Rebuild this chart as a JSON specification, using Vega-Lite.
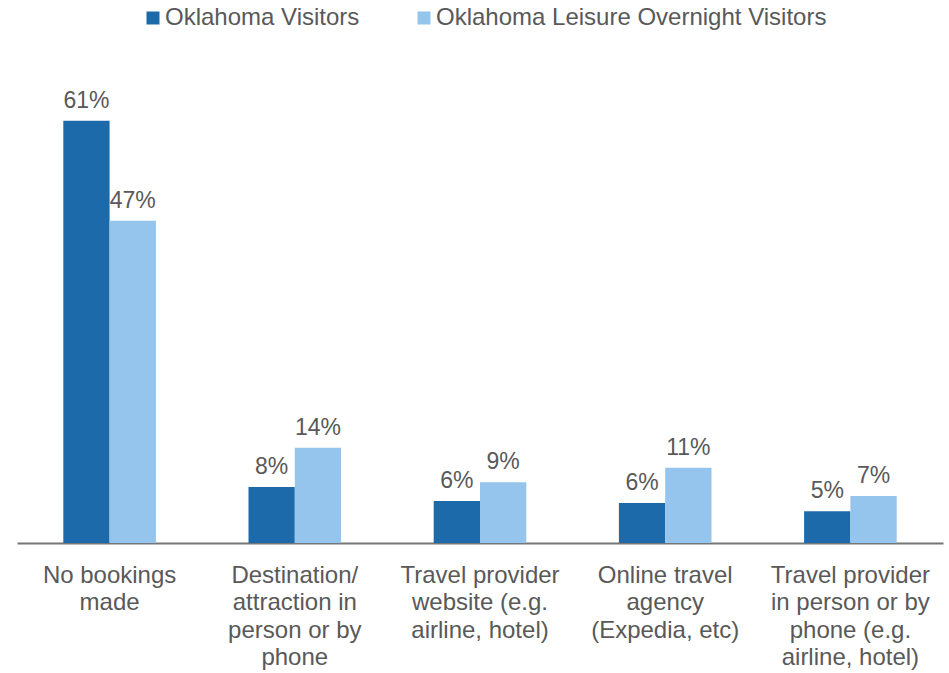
{
  "$schema": "https://vega.github.io/schema/vega-lite/v6.json",
  "width": 926,
  "height": 483,
  "autosize": {"type": "none"},
  "padding": {"left": 17, "top": 60, "right": 6, "bottom": 130},
  "background": "white",
  "config": {
    "view": {"stroke": null},
    "font": "Liberation Sans"
  },
  "data": {
    "values": [
      {"category": "No bookings|made", "series": "Oklahoma Visitors", "value": 0.612},
      {"category": "No bookings|made", "series": "Oklahoma Leisure Overnight Visitors", "value": 0.467},
      {"category": "Destination/|attraction in|person or by|phone", "series": "Oklahoma Visitors", "value": 0.081},
      {"category": "Destination/|attraction in|person or by|phone", "series": "Oklahoma Leisure Overnight Visitors", "value": 0.138},
      {"category": "Travel provider|website (e.g.|airline, hotel)", "series": "Oklahoma Visitors", "value": 0.061},
      {"category": "Travel provider|website (e.g.|airline, hotel)", "series": "Oklahoma Leisure Overnight Visitors", "value": 0.088},
      {"category": "Online travel|agency|(Expedia, etc)", "series": "Oklahoma Visitors", "value": 0.058},
      {"category": "Online travel|agency|(Expedia, etc)", "series": "Oklahoma Leisure Overnight Visitors", "value": 0.109},
      {"category": "Travel provider|in person or by|phone (e.g.|airline, hotel)", "series": "Oklahoma Visitors", "value": 0.046},
      {"category": "Travel provider|in person or by|phone (e.g.|airline, hotel)", "series": "Oklahoma Leisure Overnight Visitors", "value": 0.068}
    ]
  },
  "encoding": {
    "x": {
      "field": "category",
      "type": "nominal",
      "sort": null,
      "scale": {"paddingInner": 0, "paddingOuter": 0},
      "axis": {
        "title": null,
        "labelAngle": 0,
        "ticks": false,
        "domainColor": "#767676",
        "domainWidth": 2,
        "labelFont": "Liberation Sans",
        "labelFontSize": 24,
        "labelColor": "#595959",
        "labelLineHeight": 27.5,
        "labelPadding": 20,
        "labelBaseline": "top",
        "labelExpr": "split(datum.label, '|')"
      }
    },
    "xOffset": {
      "field": "series",
      "type": "nominal",
      "sort": ["Oklahoma Visitors", "Oklahoma Leisure Overnight Visitors"],
      "scale": {"paddingInner": 0, "paddingOuter": 1.08}
    },
    "y": {
      "field": "value",
      "type": "quantitative",
      "scale": {"domain": [0, 0.7]},
      "axis": null
    }
  },
  "layer": [
    {
      "mark": {"type": "bar"},
      "encoding": {
        "color": {
          "field": "series",
          "type": "nominal",
          "sort": ["Oklahoma Visitors", "Oklahoma Leisure Overnight Visitors"],
          "scale": {
            "domain": ["Oklahoma Visitors", "Oklahoma Leisure Overnight Visitors"],
            "range": ["#1D6AAA", "#95C5EC"]
          },
          "legend": {
            "title": null,
            "orient": "none",
            "direction": "horizontal",
            "legendX": 124,
            "legendY": -54,
            "symbolType": "square",
            "symbolSize": 169,
            "symbolStrokeWidth": 0,
            "labelFont": "Liberation Sans",
            "labelFontSize": 24,
            "labelColor": "#595959",
            "labelOffset": 0,
            "columnPadding": 52,
            "labelLimit": 600
          }
        }
      }
    },
    {
      "mark": {
        "type": "text",
        "baseline": "bottom",
        "dy": -8,
        "font": "Liberation Sans",
        "fontSize": 23,
        "color": "#595959"
      },
      "encoding": {
        "text": {"field": "value", "type": "quantitative", "format": ".0%"}
      }
    }
  ]
}
